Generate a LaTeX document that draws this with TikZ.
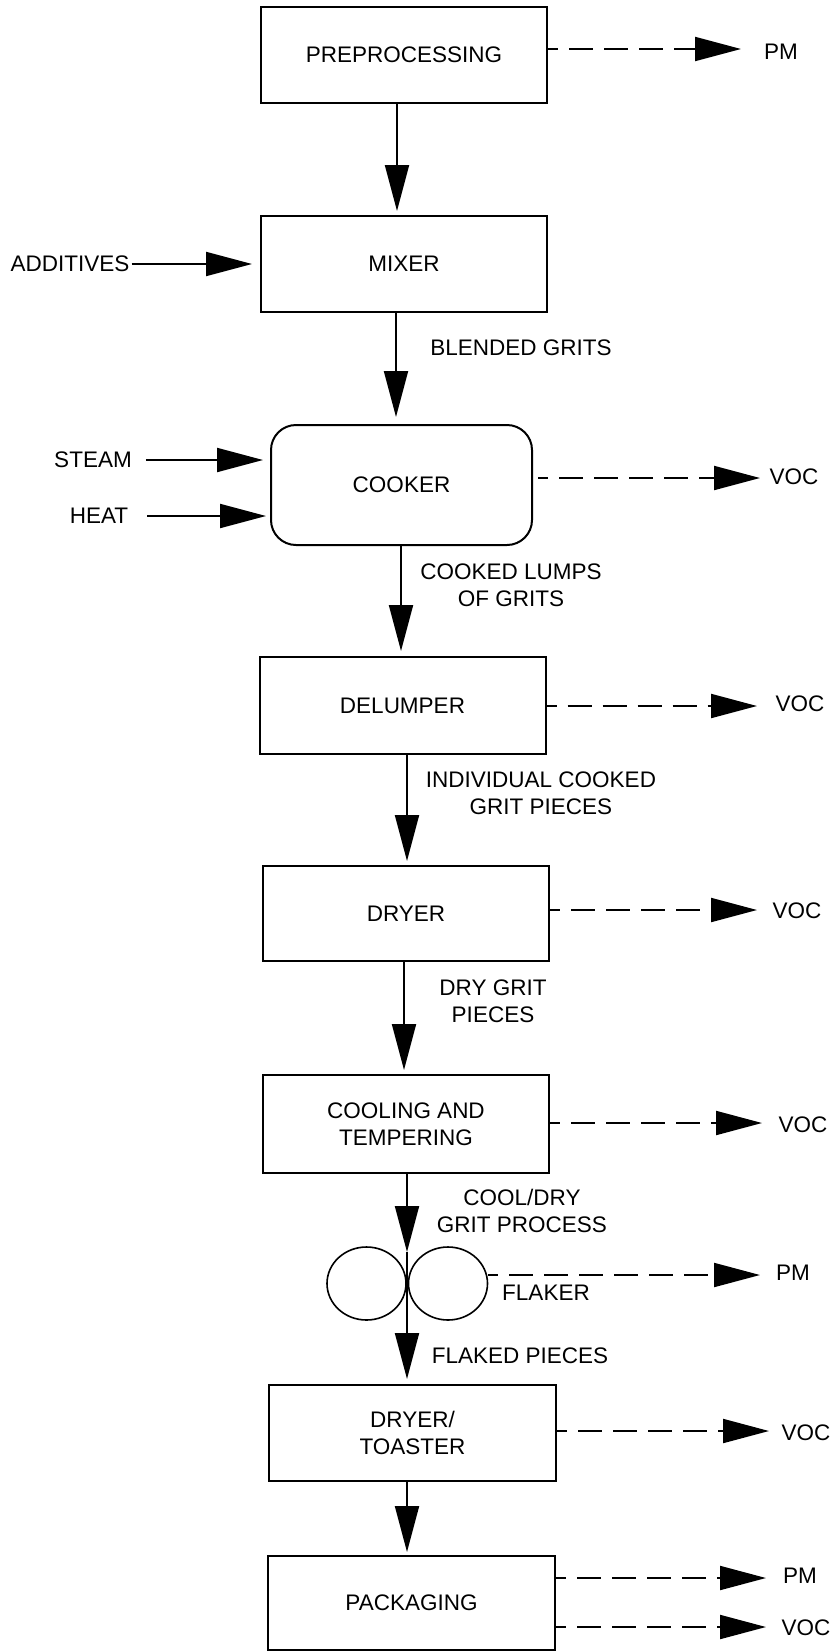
\documentclass[tikz,border=0pt]{standalone}
\usepackage{fontspec}
\setmainfont{Liberation Sans}
\usetikzlibrary{arrows.meta,shapes.geometric}
\begin{document}
\begin{tikzpicture}[x=1pt,y=-1pt,
  font=\fontsize{22.5}{27}\selectfont,
  unit/.style={draw, line width=2pt, inner sep=0pt, align=center,
    minimum width=286pt, minimum height=96pt},
  roller/.style={draw, ellipse, line width=1.6pt, inner sep=0pt,
    minimum width=79pt, minimum height=73pt},
  lab/.style={inner sep=0pt, align=center},
  flow/.style={line width=2pt, -{Triangle[length=46pt,width=24pt]}},
  emit/.style={flow, dash pattern=on 24pt off 11pt, dash phase=14pt},
]
\useasboundingbox (0,0) rectangle (836,1652);

% process units
\node[unit] (pre) at (404,55) {PREPROCESSING};
\node[unit] (mix) at (404,264) {MIXER};
\node[unit, rounded corners=25pt, minimum width=261pt, minimum height=120pt] (cook) at (401.5,485) {COOKER};
\node[unit, minimum height=97pt] (delu) at (402.5,705.5) {DELUMPER};
\node[unit, minimum height=95pt] (dry) at (406,913.5) {DRYER};
\node[unit, minimum height=98pt] (cool) at (406,1124) {COOLING AND\\TEMPERING};
\node[roller] (rollL) at (366.5,1283.5) {};
\node[roller] (rollR) at (448,1283.5) {};
\node[unit, minimum width=287pt] (toast) at (412.5,1433) {DRYER/\\TOASTER};
\node[unit, minimum width=287pt, minimum height=94pt] (pack) at (411.5,1603) {PACKAGING};

% inputs
\node[lab] (add) at (70,264) {ADDITIVES};
\node[lab] (steam) at (93,460) {STEAM};
\node[lab] (heat) at (99,516) {HEAT};

% stream labels
\node[lab] (lblend) at (521,348) {BLENDED GRITS};
\node[lab] (llumps) at (511,585) {COOKED LUMPS\\OF GRITS};
\node[lab] (lpieces) at (541,793.5) {INDIVIDUAL COOKED\\GRIT PIECES};
\node[lab] (ldry) at (493,1001) {DRY GRIT\\PIECES};
\node[lab] (lcool) at (522,1211) {COOL/DRY\\GRIT PROCESS};
\node[lab] (lflaker) at (546,1293) {FLAKER};
\node[lab] (lflaked) at (520,1356) {FLAKED PIECES};

% emission labels
\node[lab] (e1) at (781,52) {PM};
\node[lab] (e2) at (794,477) {VOC};
\node[lab] (e3) at (800,704) {VOC};
\node[lab] (e4) at (797,911) {VOC};
\node[lab] (e5) at (803,1125) {VOC};
\node[lab] (e6) at (793,1273) {PM};
\node[lab] (e7) at (806,1433) {VOC};
\node[lab] (e8) at (800,1576) {PM};
\node[lab] (e9) at (806,1628) {VOC};

% trunk positions and free ends
\coordinate (t1) at (397,0);
\coordinate (t2) at (396,0);
\coordinate (t3) at (401,0);
\coordinate (t4) at (407,0);
\coordinate (t5) at (404,0);
\coordinate (t6) at (407,0);
\coordinate (nipTop) at (407,1252);
\coordinate (x1) at (741,49);
\coordinate (x2) at (760,478);
\coordinate (x3) at (757,706);
\coordinate (x4) at (757,910);
\coordinate (x5) at (762,1123);
\coordinate (x6) at (760,1275);
\coordinate (x7) at (769,1431);
\coordinate (x8) at (766,1578);
\coordinate (x9) at (766,1627);

% main flow
\draw[flow, shorten >=4pt] (pre.south -| t1) -- (mix.north -| t1);
\draw[flow, shorten >=7pt] (mix.south -| t2) -- (cook.north -| t2);
\draw[flow, shorten >=5pt] (cook.south -| t3) -- (delu.north -| t3);
\draw[flow, shorten >=4pt] (delu.south -| t4) -- (dry.north -| t4);
\draw[flow, shorten >=4pt] (dry.south -| t5) -- (cool.north -| t5);
\draw[flow] (cool.south -| t6) -- (nipTop);
\draw[flow, shorten >=5pt] (nipTop) -- (toast.north -| t6);
\draw[flow, shorten >=3pt] (toast.south -| t6) -- (pack.north -| t6);

% inputs
\draw[flow, shorten <=2pt, shorten >=8pt] (add.east) -- (add.east -| mix.west);
\draw[flow, shorten <=14pt, shorten >=7pt] (steam.east) -- (steam.east -| cook.west);
\draw[flow, shorten <=19pt, shorten >=4pt] (heat.east) -- (heat.east -| cook.west);

% emissions
\draw[emit] (pre.east |- x1) -- (x1);
\draw[emit] ([xshift=5pt]cook.east |- x2) -- (x2);
\draw[emit] (delu.east |- x3) -- (x3);
\draw[emit] (dry.east |- x4) -- (x4);
\draw[emit] (cool.east |- x5) -- (x5);
\draw[emit] (rollR.east |- x6) -- (x6);
\draw[emit] (toast.east |- x7) -- (x7);
\draw[emit] (pack.east |- x8) -- (x8);
\draw[emit] (pack.east |- x9) -- (x9);
\end{tikzpicture}
\end{document}
